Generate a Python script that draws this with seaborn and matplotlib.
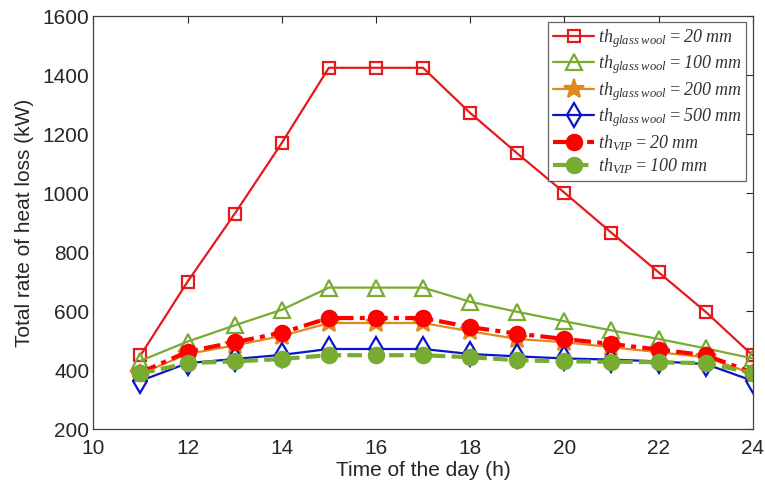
import matplotlib
matplotlib.use("Agg")
import matplotlib.pyplot as plt
import seaborn as sns

# data
hours = [11, 12, 13, 14, 15, 16, 17, 18, 19, 20, 21, 22, 23, 24]
gw_20 = [450, 700, 930, 1170, 1425, 1425, 1425, 1272, 1135, 1002, 866, 732, 598, 450]
gw_100 = [432, 497, 552, 605, 680, 680, 680, 632, 598, 566, 535, 506, 474, 440]
gw_200 = [388, 455, 484, 516, 560, 560, 560, 532, 506, 495, 478, 461, 444, 388]
gw_500 = [364, 424, 438, 452, 472, 472, 472, 455, 447, 440, 436, 430, 421, 364]
vip_20 = [392, 463, 495, 527, 577, 577, 577, 546, 524, 506, 489, 470, 451, 392]
vip_100 = [389, 424, 430, 438, 451, 451, 451, 444, 434, 430, 429, 427, 424, 391]

labels = [
    r"$th_{glass\ wool} = 20\ mm$",
    r"$th_{glass\ wool} = 100\ mm$",
    r"$th_{glass\ wool} = 200\ mm$",
    r"$th_{glass\ wool} = 500\ mm$",
    r"$th_{VIP} = 20\ mm$",
    r"$th_{VIP} = 100\ mm$",
]

sns.set_theme(style="white")
plt.rcParams["font.family"] = ["Liberation Sans", "DejaVu Sans"]
plt.rcParams["mathtext.fontset"] = "custom"
plt.rcParams["mathtext.it"] = "Liberation Serif:italic"
plt.rcParams["mathtext.rm"] = "Liberation Serif:italic"

fig, ax = plt.subplots(figsize=(7.65, 4.9), dpi=100)
fig.subplots_adjust(left=0.122, right=0.984, top=0.967, bottom=0.124)

styles = [
    dict(color="#e41a1c", marker="s", markersize=8, markerfacecolor="none", linestyle="-", linewidth=1.6),
    dict(color="#77ac30", marker="^", markersize=11, markerfacecolor="none", linestyle="-", linewidth=1.6),
    dict(color="#e08a1e", marker="*", markersize=15, markerfacecolor="#e08a1e", linestyle="-", linewidth=1.6),
    dict(color="#0a14c8", marker="d", markersize=12, markerfacecolor="none", linestyle="-", linewidth=1.6),
    dict(color="#ff0000", marker="o", markersize=11, markerfacecolor="#ff0000", linestyle=(0, (4, 1.5, 1.2, 1.5)), linewidth=3),
    dict(color="#77ac30", marker="o", markersize=11, markerfacecolor="#77ac30", linestyle=(0, (3.5, 1.5)), linewidth=3),
]

series = [gw_20, gw_100, gw_200, gw_500, vip_20, vip_100]
for vals, lab, st in zip(series, labels, styles):
    sns.lineplot(x=hours, y=vals, ax=ax, label=lab, markeredgecolor=st["color"],
                 markeredgewidth=1.6, **st)

ax.set_xlim(10, 24)
ax.set_ylim(200, 1600)
ax.set_xticks(range(10, 25, 2))
ax.set_yticks(range(200, 1601, 200))
ax.tick_params(direction="in", top=True, right=True, length=5, width=0.8,
               labelsize=15, colors="#262626", pad=3)
ax.tick_params(axis="x", pad=7)
for sp in ax.spines.values():
    sp.set_color("#404040")
    sp.set_linewidth(0.9)

ax.set_xlabel("Time of the day (h)", fontsize=15, color="#262626", labelpad=2)
ax.set_ylabel("Total rate of heat loss (kW)", fontsize=15, color="#262626", labelpad=6)

leg = ax.legend(loc="upper right", fontsize=13, frameon=True, fancybox=False,
                edgecolor="#404040", handlelength=2.3, handletextpad=0.2,
                labelspacing=0.2, borderpad=0.25, borderaxespad=0.35,
                labelcolor="#333333")
leg.get_frame().set_linewidth(0.9)

fig.savefig("out.png", dpi=100)
